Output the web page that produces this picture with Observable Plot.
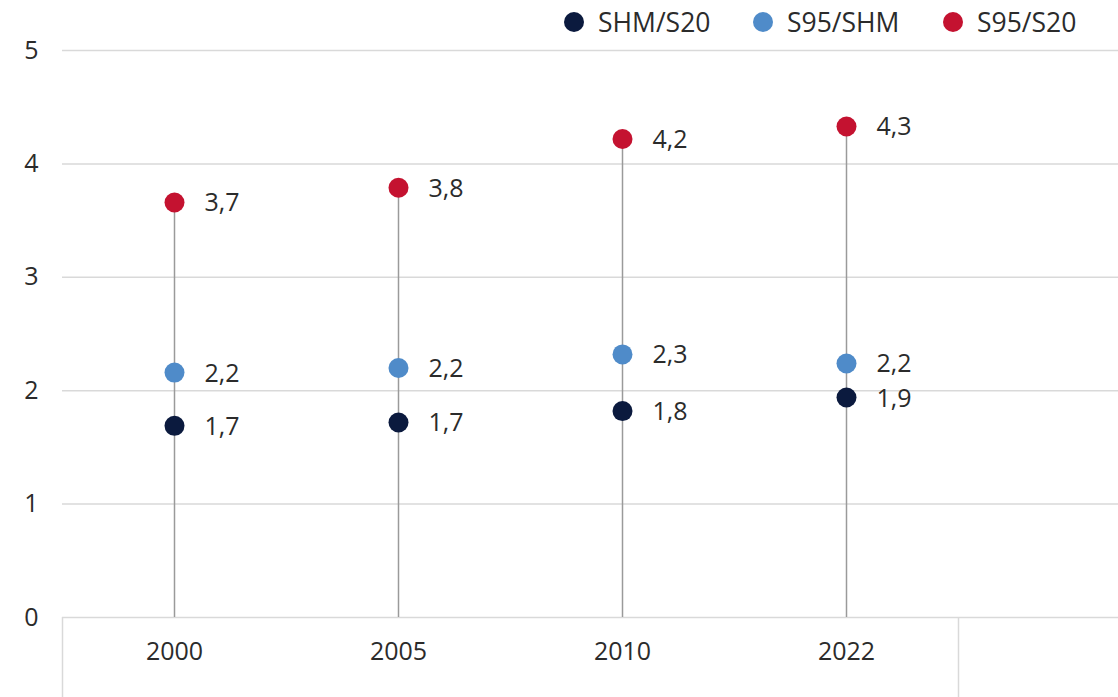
<!DOCTYPE html>
<html>
<head>
<meta charset="utf-8">
<script src="https://cdn.jsdelivr.net/npm/d3@7"></script>
<script src="https://cdn.jsdelivr.net/npm/@observablehq/plot@0.6"></script>
<style>
  html, body { margin: 0; padding: 0; background: #fff; }
  body { font-family: "Open Sans", sans-serif; }
  #wrap { position: relative; width: 1118px; height: 697px; overflow: hidden; }
  .item { position: absolute; top: 0; height: 44px; display: flex; align-items: center; font-size: 26.5px; color: #2b2b2b; white-space: nowrap; }
  .sw { width: 20px; height: 20px; border-radius: 50%; margin-right: 14px; }
  svg { display: block; }
</style>
</head>
<body>
<div id="wrap"></div>
<script>
// ---- data ----
const years = ["2000", "2005", "2010", "2022"];
const shmS20 = [1.69, 1.72, 1.82, 1.94];
const s95Shm = [2.16, 2.20, 2.32, 2.24];
const s95S20 = [3.66, 3.79, 4.22, 4.33];
const seriesNames = ["SHM/S20", "S95/SHM", "S95/S20"];
const seriesColors = ["#0b1a3e", "#4f8bc9", "#c41230"];
const yTicks = [0, 1, 2, 3, 4, 5];

// ---- build tables ----
const seriesValues = [shmS20, s95Shm, s95S20];
const points = [];
seriesNames.forEach((name, s) => {
  years.forEach((yr, i) => points.push({year: yr, series: name, value: seriesValues[s][i]}));
});
const stems = years.map((yr, i) => ({year: yr, top: s95S20[i]}));

const W = 1118, H = 697;
const xLeft = 62, xRight = 958;
const halfBand = (xRight - xLeft) / years.length / 2;

const chart = Plot.plot({
  width: W,
  height: H,
  marginLeft: xLeft,
  marginRight: 0,
  marginTop: 50,
  marginBottom: 80,
  style: {fontFamily: "'Open Sans', sans-serif", fontSize: "25px", color: "#2b2b2b", background: "transparent", overflow: "visible"},
  x: {type: "band", domain: years, range: [xLeft, xRight], padding: 0, label: null},
  y: {domain: [0, 5], label: null},
  color: {domain: seriesNames, range: seriesColors},
  marks: [
    Plot.ruleY(yTicks, {stroke: "#d9d9d9", strokeWidth: 1.5}),
    Plot.ruleX([years[0]], {x: d => d, y1: 0, y2: 0, dx: -halfBand, insetBottom: -80, stroke: "#d9d9d9", strokeWidth: 1.5}),
    Plot.ruleX([years[years.length - 1]], {x: d => d, y1: 0, y2: 0, dx: halfBand, insetBottom: -80, stroke: "#d9d9d9", strokeWidth: 1.5}),
    Plot.ruleX(stems, {x: "year", y1: 0, y2: "top", stroke: "#9a9a9a", strokeWidth: 1.5}),
    Plot.dot(points, {x: "year", y: "value", fill: "series", r: 10}),
    Plot.text(points, {x: "year", y: "value", text: d => d.value.toFixed(1).replace(".", ","), textAnchor: "start", dx: 30, dy: 1, fill: "#2b2b2b", fontSize: 25}),
    Plot.axisY({ticks: yTicks, tickSize: 0, tickPadding: 24, fontSize: 25, tickFormat: d => String(d)}),
    Plot.axisX({tickSize: 0, tickPadding: 25, fontSize: 25})
  ]
});
document.getElementById("wrap").appendChild(chart);

// ---- legend ----
const wrap = document.getElementById("wrap");
const legendLeft = [564, 753, 943];
seriesNames.forEach((name, i) => {
  const item = document.createElement("div");
  item.className = "item";
  item.style.left = legendLeft[i] + "px";
  const sw = document.createElement("span");
  sw.className = "sw";
  sw.style.background = seriesColors[i];
  const label = document.createElement("span");
  label.textContent = name;
  item.appendChild(sw);
  item.appendChild(label);
  wrap.appendChild(item);
});
</script>
</body>
</html>
